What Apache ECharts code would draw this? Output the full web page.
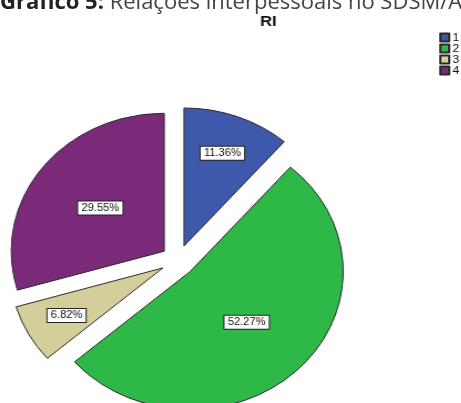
<!DOCTYPE html>
<html>
<head>
<meta charset="utf-8">
<script src="https://cdn.jsdelivr.net/npm/echarts@6/dist/echarts.min.js"></script>
<style>
  html, body { margin: 0; padding: 0; background: #fff; overflow: hidden; }
  #wrap { position: relative; width: 461px; height: 403px; overflow: hidden; }
  #head { position: absolute; left: 0; top: -14px; white-space: nowrap; font-family: "Open Sans", "Noto Sans", sans-serif; font-size: 22px; line-height: 28px; color: #444; }
  #head b { color: #222; }
  #chart { position: absolute; left: 0; top: 0; width: 416px; height: 403px; transform: scaleX(1.109); transform-origin: 0 0; }
</style>
</head>
<body>
<div id="wrap">
  <div id="chart"></div>
  <div id="head"><b>Gráfico 5:</b> Relações interpessoais no SDSM/A</div>
</div>
<script>
const chartTitle = 'RI';
const categories = ['1', '2', '3', '4'];
const values = [11.36, 52.27, 6.82, 29.55];
const colors = ['#3E58AC', '#2EB848', '#D4CE9A', '#7B2A7A'];
// which slice labels sit farther out (SPSS placement)
const outerLabel = [true, false, true, false];

const labelBox = {
  fontFamily: 'Liberation Sans, Arial, sans-serif',
  fontSize: 10,
  color: '#111',
  backgroundColor: '#fff',
  borderColor: '#222',
  borderWidth: 1,
  padding: [2, 3, 1, 3],
  formatter: function (p) { return p.value.toFixed(2) + '%'; }
};

const mainData = categories.map(function (c, i) {
  const st = { color: colors[i], borderColor: '#2a2a2a', borderWidth: 1 };
  return {
    name: c, value: values[i], selected: true,
    itemStyle: st, select: { itemStyle: st },
    label: Object.assign({ show: !outerLabel[i], position: 'inside' }, labelBox)
  };
});
const overlayData = categories.map(function (c, i) {
  const st = { color: 'rgba(0,0,0,0)', borderWidth: 0 };
  return {
    name: c, value: values[i], selected: true,
    itemStyle: st, select: { itemStyle: st },
    label: Object.assign({ show: outerLabel[i], position: 'inside' }, labelBox)
  };
});

const chart = echarts.init(document.getElementById('chart'), null, { renderer: 'canvas' });
chart.setOption({
  animation: false,
  title: {
    text: chartTitle, left: 237, top: 9, textAlign: 'center',
    textStyle: { fontFamily: 'Liberation Sans, Arial, sans-serif', fontSize: 15, fontWeight: 'bold', color: '#111' }
  },
  legend: {
    data: categories, orient: 'vertical', left: 396, top: 32, padding: 0,
    icon: 'rect', itemWidth: 8, itemHeight: 8, itemGap: 0,
    selectedMode: false,
    textStyle: { fontFamily: 'Liberation Sans, Arial, sans-serif', fontSize: 11, lineHeight: 10, color: '#111', padding: [0, 0, 0, -2] }
  },
  series: [
    {
      type: 'pie', center: [160.5, 260.5], radius: [0, 138],
      startAngle: 90, clockwise: true,
      selectedMode: 'multiple', selectedOffset: 15.5,
      emphasis: { disabled: true }, silent: true,
      labelLine: { show: false },
      data: mainData
    },
    {
      type: 'pie', center: [160.5, 260.5], radius: [54, 138],
      startAngle: 90, clockwise: true,
      selectedMode: 'multiple', selectedOffset: 15.5,
      emphasis: { disabled: true }, silent: true,
      labelLine: { show: false },
      data: overlayData
    }
  ]
});
</script>
</body>
</html>
